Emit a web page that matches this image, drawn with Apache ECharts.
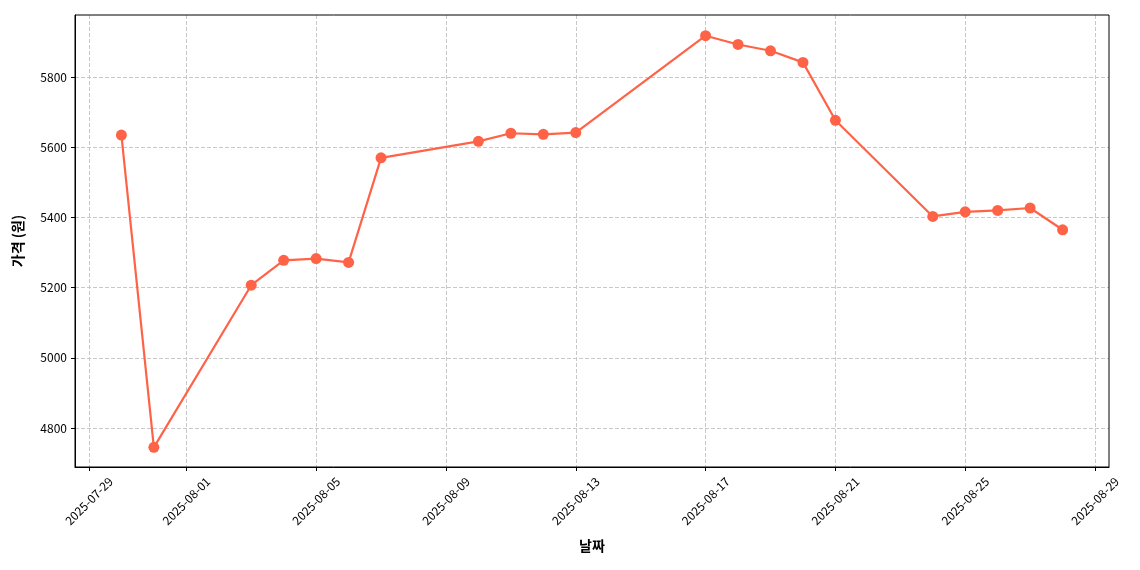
<!DOCTYPE html>
<html>
<head>
<meta charset="utf-8">
<script src="https://cdn.jsdelivr.net/npm/echarts@6/dist/echarts.min.js"></script>
<style>
  html, body { margin: 0; padding: 0; background: #fff; }
  #chart { width: 1140px; height: 570px; }
</style>
</head>
<body>
<div id="chart"></div>
<script>
// 데이터
const dates = [
  '2025-07-30', '2025-07-31', '2025-08-03', '2025-08-04', '2025-08-05', '2025-08-06', '2025-08-07',
  '2025-08-10', '2025-08-11', '2025-08-12', '2025-08-13', '2025-08-17', '2025-08-18', '2025-08-19',
  '2025-08-20', '2025-08-21', '2025-08-24', '2025-08-25', '2025-08-26', '2025-08-27', '2025-08-28'
];
const prices = [
  5635, 4745, 5207, 5278, 5283, 5272, 5570,
  5617, 5640, 5637, 5642, 5918, 5893, 5875,
  5842, 5677, 5403, 5416, 5420, 5427, 5365
];
const tickDates = ['2025-07-29', '2025-08-01', '2025-08-05', '2025-08-09', '2025-08-13',
  '2025-08-17', '2025-08-21', '2025-08-25', '2025-08-29'];
const yTicks = [4800, 5000, 5200, 5400, 5600, 5800];

const DAY = 86400000;
const toTs = s => Date.parse(s + 'T00:00:00Z');
const tickValues = tickDates.map(toTs);

function fmtDate(v) {
  const d = new Date(v);
  return d.getUTCFullYear() + '-' + String(d.getUTCMonth() + 1).padStart(2, '0') + '-' +
    String(d.getUTCDate()).padStart(2, '0');
}

const font = 'Noto Sans CJK KR';
const chart = echarts.init(document.getElementById('chart'));
chart.setOption({
  animation: false,
  textStyle: { fontFamily: font },
  grid: { left: 75, right: 31, top: 15, bottom: 103 },
  xAxis: {
    type: 'value',
    min: toTs('2025-07-29') - 0.43 * DAY,
    max: toTs('2025-08-29') + 0.43 * DAY,
    name: '날짜',
    nameLocation: 'middle',
    nameGap: 72,
    nameTextStyle: { fontSize: 14, fontWeight: 'bold', color: '#000', fontFamily: font },
    axisLine: { onZero: false, lineStyle: { color: '#000' } },
    axisTick: { customValues: tickValues, length: 4, lineStyle: { color: '#000' } },
    axisLabel: {
      customValues: tickValues, rotate: 45, color: '#000', fontSize: 12,
      align: 'center', verticalAlign: 'middle', margin: 34,
      formatter: v => fmtDate(v)
    },
    splitLine: { show: true, lineStyle: { type: 'dashed', color: '#c8c8c8' } }
  },
  yAxis: {
    type: 'value',
    min: 4689,
    max: 5977,
    name: '가격 (원)',
    nameLocation: 'middle',
    nameGap: 50,
    nameTextStyle: { fontSize: 14, fontWeight: 'bold', color: '#000', fontFamily: font },
    axisLine: { show: true, lineStyle: { color: '#000' } },
    axisTick: { show: true, customValues: yTicks, length: 4, lineStyle: { color: '#000' } },
    axisLabel: { customValues: yTicks, color: '#000', fontSize: 12, formatter: v => String(v) },
    splitLine: { show: true, lineStyle: { type: 'dashed', color: '#c8c8c8' } }
  },
  series: [{
    type: 'line',
    data: dates.map((d, i) => [toTs(d), prices[i]]),
    symbol: 'circle',
    symbolSize: 11,
    lineStyle: { color: '#FF6347', width: 2.2 },
    itemStyle: { color: '#FF6347' }
  }]
});
// 상단/우측 테두리
chart.setOption({
  graphic: [{
    type: 'rect',
    shape: { x: 75, y: 15, width: 1140 - 75 - 31, height: 570 - 15 - 103 },
    style: { fill: 'none', stroke: '#000', lineWidth: 1 },
    silent: true
  }]
});
</script>
</body>
</html>
